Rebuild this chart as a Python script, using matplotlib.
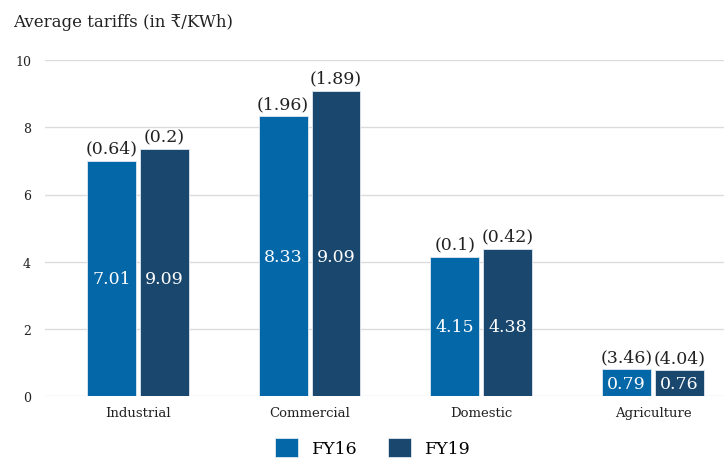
import matplotlib.pyplot as plt
import numpy as np

plt.rcParams['font.family'] = ['DejaVu Serif', 'DejaVu Sans', 'Noto Sans']

categories = ["Industrial", "Commercial", "Domestic", "Agriculture"]
fy16 = [7.01, 8.33, 4.15, 0.79]
fy19 = [7.35, 9.09, 4.38, 0.76]
fy16_labels = ["7.01", "8.33", "4.15", "0.79"]
fy19_labels = ["9.09", "9.09", "4.38", "0.76"]
fy16_gap = ["(0.64)", "(1.96)", "(0.1)", "(3.46)"]
fy19_gap = ["(0.2)", "(1.89)", "(0.42)", "(4.04)"]
yticks = [0, 2, 4, 6, 8, 10]

c16 = "#0467a8"
c19 = "#19476e"

fig = plt.figure(figsize=(7.24, 4.6), dpi=100)
ax = fig.add_axes([0.062, 0.137, 0.938, 0.73])

x = np.arange(len(categories))
w = 0.285
off = 0.154
b1 = ax.bar(x - off, fy16, w, color=c16, edgecolor="#dfe8f0", linewidth=0.6, label="FY16", zorder=3)
b2 = ax.bar(x + off, fy19, w, color=c19, edgecolor="#dfe8f0", linewidth=0.6, label="FY19", zorder=3)

# value labels sit at one height per group, halfway up the shorter bar
mid = [min(a, b) / 2 for a, b in zip(fy16, fy19)]
for bars, inner, top in [(b1, fy16_labels, fy16_gap), (b2, fy19_labels, fy19_gap)]:
    for i, (r, t_in, t_top) in enumerate(zip(bars, inner, top)):
        cx = r.get_x() + r.get_width() / 2
        h = r.get_height()
        ax.text(cx, mid[i], t_in, ha="center", va="center", color="white",
                fontsize=12.5, zorder=4)
        ax.text(cx, h + 0.12, t_top, ha="center", va="bottom", color="#222222",
                fontsize=12.5, clip_on=False, zorder=4)

ax.set_xlim(-0.542, 3.414)
ax.set_ylim(0, 10)
ax.set_yticks(yticks)
ax.set_xticks(x)
ax.set_xticklabels(categories, fontsize=9.5, color="#222222")
ax.tick_params(axis="y", labelsize=9, colors="#222222", length=0, pad=10)
ax.tick_params(axis="x", length=0, pad=7)
ax.yaxis.grid(True, color="#dcdcdc", linewidth=1, zorder=0)
for s in ax.spines.values():
    s.set_visible(False)

fig.text(0.018, 0.952, "Average tariffs (in ₹/KWh)", fontsize=12, color="#222222",
         ha="left", va="center")

fig.legend(handles=[b1, b2], labels=["FY16", "FY19"], loc="center",
           bbox_to_anchor=(0.515, 0.025), ncol=2, frameon=False, fontsize=12.5,
           handlelength=1.3, handleheight=1.3, columnspacing=1.8, handletextpad=0.8)

fig.savefig("out.png", dpi=100)
